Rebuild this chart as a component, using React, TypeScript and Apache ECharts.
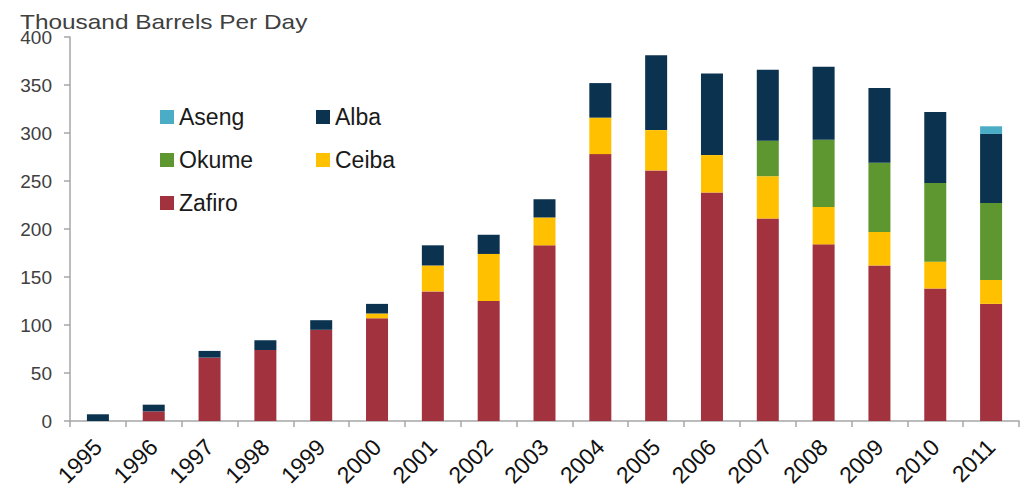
import React, { useEffect, useRef } from "react";
import * as echarts from "echarts";

const years = ["1995", "1996", "1997", "1998", "1999", "2000", "2001", "2002", "2003", "2004", "2005", "2006", "2007", "2008", "2009", "2010", "2011"];
const zafiro = [0, 10, 66, 74, 95, 107, 135, 125, 183, 278, 261, 238, 211, 184, 162, 138, 122];
const ceiba = [0, 0, 0, 0, 0, 5, 27, 49, 29, 38, 42, 39, 44, 39, 35, 28, 25];
const okume = [0, 0, 0, 0, 0, 0, 0, 0, 0, 0, 0, 0, 37, 70, 72, 82, 80];
const alba = [7, 7, 7, 10, 10, 10, 21, 20, 19, 36, 78, 85, 74, 76, 78, 74, 72];
const aseng = [0, 0, 0, 0, 0, 0, 0, 0, 0, 0, 0, 0, 0, 0, 0, 0, 8];
const yTicks = { min: 0, max: 400, interval: 50 };
const axisTitle = "Thousand Barrels Per Day";

const colors: Record<string, string> = {
  Zafiro: "#A3323F",
  Ceiba: "#FFC000",
  Okume: "#5E972F",
  Alba: "#0B3350",
  Aseng: "#4BACC6",
};

const clean = (arr: number[]) => arr.map((v) => (v === 0 ? null : v));
const FONT = "Liberation Sans, Arial, sans-serif";

export default function App() {
  const ref = useRef<HTMLDivElement>(null);
  useEffect(() => {
    if (!ref.current) return;
    const chart = echarts.init(ref.current, undefined, { renderer: "svg" });
    const seriesDefs: [string, number[]][] = [
      ["Zafiro", zafiro],
      ["Ceiba", ceiba],
      ["Okume", okume],
      ["Alba", alba],
      ["Aseng", aseng],
    ];
    const legendPos: Record<string, [number, number]> = {
      Aseng: [160, 105],
      Okume: [160, 148],
      Zafiro: [160, 191],
      Alba: [316, 105],
      Ceiba: [316, 148],
    };
    const legends = Object.keys(legendPos).map((name) => ({
      data: [name],
      left: legendPos[name][0],
      top: legendPos[name][1],
      padding: 0,
      icon: "rect",
      itemWidth: 14,
      itemHeight: 14,
      selectedMode: false,
      textStyle: { fontSize: 23, lineHeight: 24, color: "#1a1a1a", fontFamily: FONT },
    }));
    chart.setOption({
      animation: false,
      backgroundColor: "#ffffff",
      grid: { left: 70, right: 3, top: 37, bottom: 78, containLabel: false },
      legend: legends,
      graphic: [
        {
          type: "text",
          left: 20,
          top: 12,
          scaleX: 1.22,
          style: {
            text: axisTitle,
            fontSize: 20,
            fontFamily: FONT,
            fill: "#404040",
          },
        },
      ],
      xAxis: {
        type: "category",
        data: years,
        boundaryGap: true,
        axisLine: { lineStyle: { color: "#A6A6A6", width: 1.5 } },
        axisTick: { show: true, length: 6, alignWithLabel: false, lineStyle: { color: "#A6A6A6", width: 1.5 } },
        axisLabel: {
          interval: 0,
          rotate: 45,
          margin: 22,
          fontSize: 23,
          color: "#111111",
          fontFamily: FONT,
        },
      },
      yAxis: {
        type: "value",
        min: yTicks.min,
        max: yTicks.max,
        interval: yTicks.interval,
        splitLine: { show: false },
        axisLine: { show: true, lineStyle: { color: "#A6A6A6", width: 1.5 } },
        axisTick: { show: true, length: 6, lineStyle: { color: "#A6A6A6", width: 1.5 } },
        axisLabel: {
          margin: 18,
          fontSize: 19,
          color: "#404040",
          fontFamily: FONT,
        },
      },
      series: seriesDefs.map(([name, data]) => ({
        name,
        type: "bar",
        stack: "total",
        barWidth: 22,
        data: clean(data),
        itemStyle: { color: colors[name] },
      })),
    });
    return () => chart.dispose();
  }, []);
  return (
    <div
      ref={ref}
      style={{ position: "fixed", left: 0, top: 0, width: 1022, height: 499, background: "#fff" }}
    />
  );
}
